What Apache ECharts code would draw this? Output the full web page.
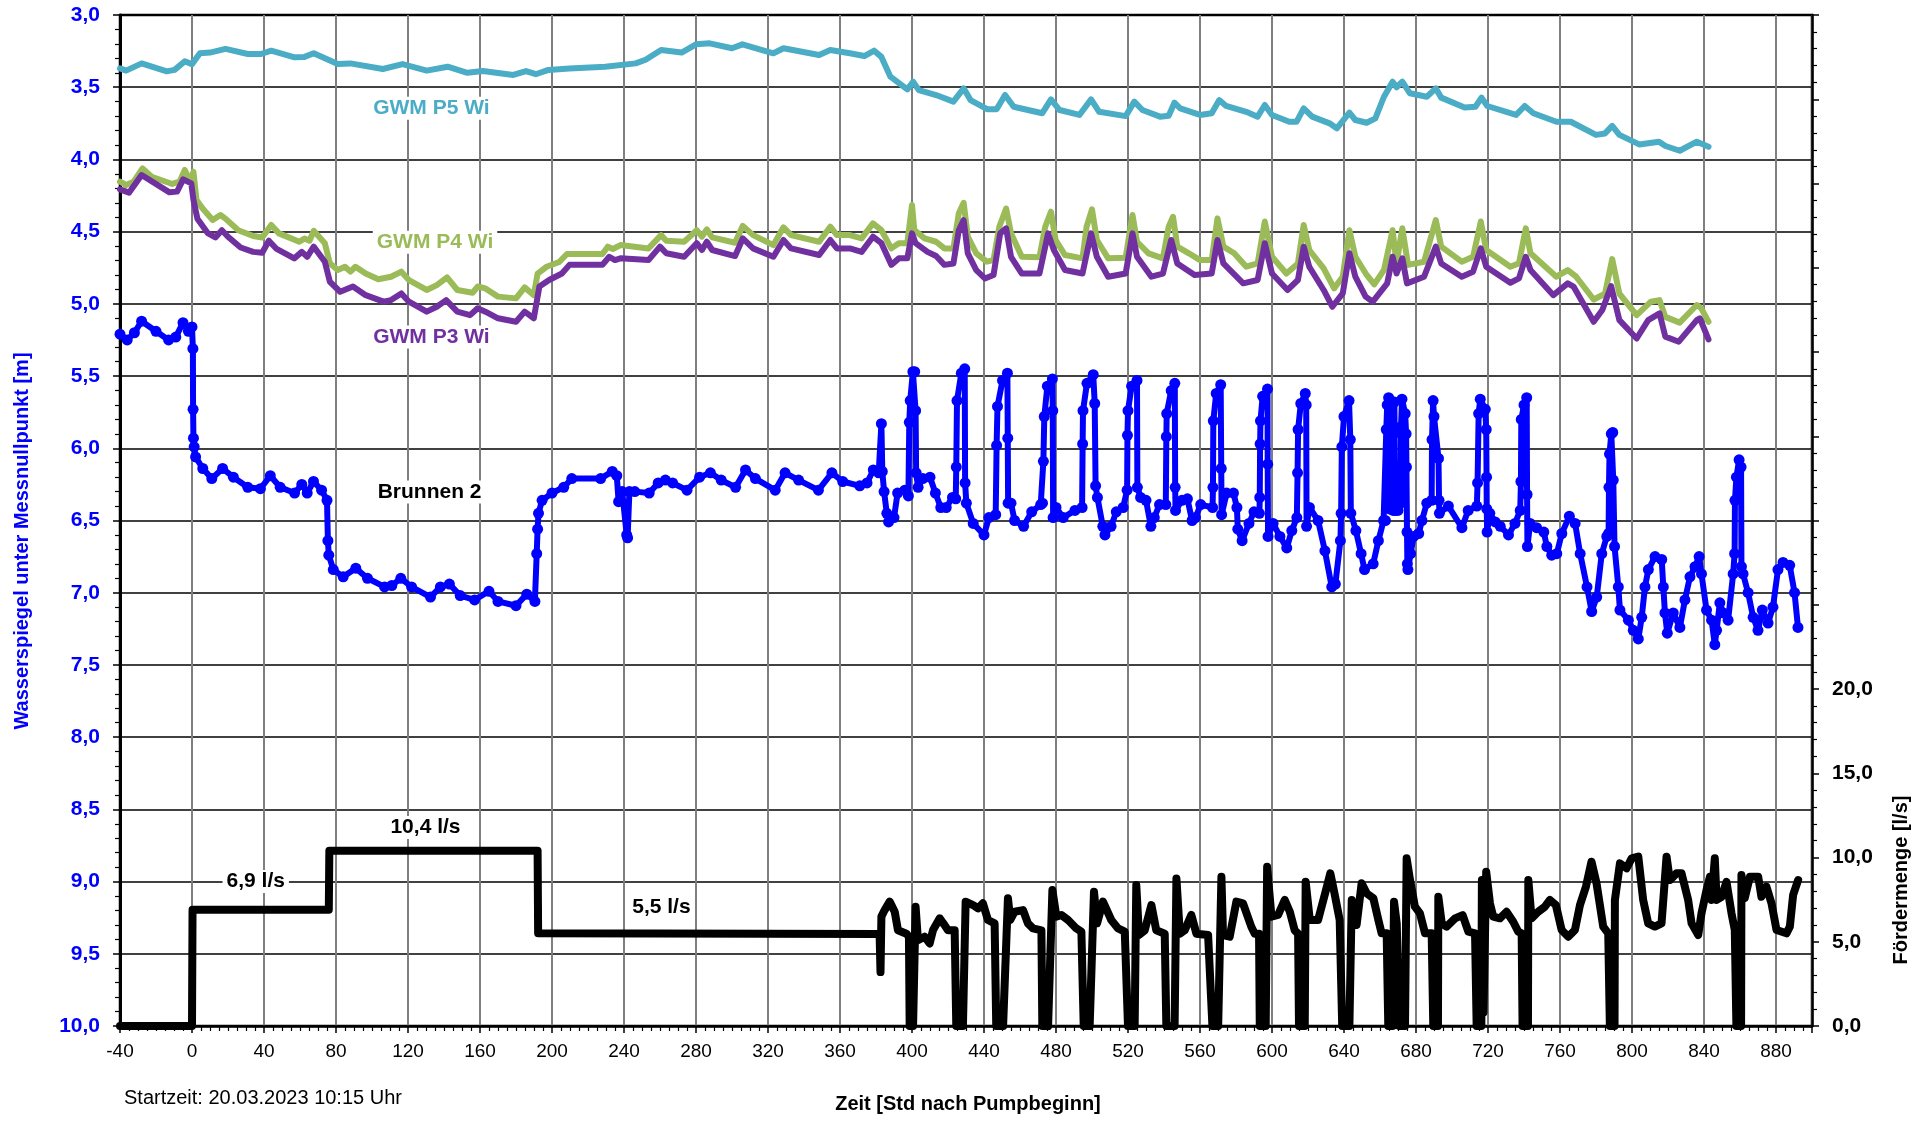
<!DOCTYPE html>
<html>
<head>
<meta charset="utf-8">
<title>Pumpversuch Brunnen 2</title>
<script src="https://cdn.jsdelivr.net/npm/echarts@6/dist/echarts.min.js"></script>
<style>
  html, body { margin: 0; padding: 0; background: #fff; }
  #chart { width: 1928px; height: 1121px; }
</style>
</head>
<body>
<div id="chart"></div>
<script>
"use strict";

// Zeit [h nach Pumpbeginn], Wasserspiegel [m unter MNP]
var p5Wi = [
	[-40,3.37],[-36.6,3.385],[-28,3.335],[-14,3.39],[-9.7,3.38],[-4,3.32],[0,3.34],[4.4,3.265],[10,3.26],
	[18.6,3.235],[31,3.27],[38.4,3.27],[44,3.247],[57,3.293],[62.5,3.29],[67.6,3.265],[81,3.34],[88,3.335],
	[106,3.374],[117,3.34],[130.4,3.385],[142,3.358],[153,3.4],[161.6,3.388],[178.5,3.415],[185.6,3.388],
	[191,3.41],[198,3.38],[209.7,3.37],[229.5,3.358],[246.5,3.335],[252,3.31],[260.6,3.242],[272,3.26],
	[280,3.203],[287.6,3.196],[300,3.23],[305.8,3.203],[323,3.265],[328.6,3.23],[348.4,3.277],[354.6,3.242],
	[365.5,3.265],[373.5,3.284],[379,3.247],[383,3.29],[388,3.427],[397.4,3.515],[400.6,3.462],[403.8,3.52],
	[413.4,3.554],[423,3.6],[428.7,3.508],[432.5,3.589],[442,3.653],[447,3.653],[451.7,3.554],[456.5,3.635],
	[472.4,3.68],[477.2,3.584],[482,3.658],[493,3.692],[499.5,3.584],[504,3.67],[518.7,3.7],[523.5,3.6],
	[528,3.658],[537.8,3.704],[542.6,3.697],[545.8,3.607],[549,3.646],[560,3.692],[566.5,3.68],[570.7,3.589],
	[574.5,3.63],[585.7,3.67],[592,3.704],[596,3.623],[600,3.692],[609.6,3.739],[613.7,3.739],[617.6,3.646],
	[622.3,3.704],[632,3.75],[636,3.785],[643,3.676],[646.3,3.727],[652.6,3.746],[657.4,3.716],[662.2,3.566],
	[667,3.462],[669.2,3.5],[672.4,3.462],[676.6,3.542],[686,3.566],[691,3.508],[694,3.572],[707,3.64],
	[713,3.635],[716.4,3.572],[719.6,3.63],[735.6,3.692],[740.4,3.63],[745.2,3.68],[758,3.739],[766,3.739],
	[780,3.83],[785,3.82],[789,3.768],[793,3.83],[804,3.896],[815,3.877],[818.6,3.907],[826.5,3.94],
	[836,3.877],[842.5,3.912]
];

var p4Wi = [
	[-40,4.154],[-36.6,4.177],[-32.4,4.154],[-27.5,4.062],[-22.4,4.12],[-11,4.17],[-6.9,4.154],[-4,4.073],
	[-1.2,4.154],[0.8,4.085],[2.5,4.28],[5.9,4.34],[11.5,4.42],[15.8,4.385],[18.6,4.41],[25.7,4.49],[34,4.53],
	[39,4.54],[44,4.454],[48.3,4.512],[59.6,4.57],[62.5,4.547],[65.3,4.563],[67.6,4.494],[73.8,4.58],
	[76.6,4.72],[81,4.766],[85,4.743],[88,4.777],[90.8,4.743],[96.5,4.79],[103.5,4.83],[110.6,4.812],
	[116.3,4.777],[120.5,4.835],[130.4,4.904],[136,4.87],[141.7,4.817],[147.4,4.904],[155.9,4.923],
	[158.7,4.88],[163,4.893],[170,4.95],[180,4.962],[184.8,4.886],[189.9,4.94],[192,4.79],[197,4.743],
	[204,4.71],[208.3,4.655],[228,4.655],[231,4.604],[233.8,4.62],[238,4.593],[253.6,4.616],[260.6,4.524],
	[263.5,4.563],[273.4,4.57],[280.4,4.49],[283.3,4.535],[286,4.484],[289,4.54],[301.7,4.577],[306,4.46],
	[311.7,4.524],[323,4.593],[328.6,4.47],[332.8,4.524],[348.4,4.57],[354.6,4.466],[358.3,4.524],
	[365.5,4.524],[372,4.547],[378.3,4.443],[383,4.49],[388.5,4.616],[392.7,4.58],[397.4,4.58],[400,4.316],
	[401.3,4.49],[407,4.547],[413.4,4.57],[418,4.616],[423,4.616],[426,4.373],[428.7,4.3],[431,4.535],
	[435.7,4.65],[441.5,4.708],[445.3,4.697],[448.5,4.466],[452.3,4.34],[455,4.512],[461,4.674],[470.8,4.678],
	[474,4.466],[477.2,4.362],[479.8,4.558],[485,4.662],[494.7,4.685],[497,4.466],[500,4.346],[502.7,4.558],
	[509,4.685],[518.7,4.68],[522.5,4.385],[525,4.57],[531.4,4.65],[539.4,4.685],[542.6,4.466],[545,4.397],
	[547.4,4.604],[553.8,4.65],[560,4.697],[566.5,4.697],[569.7,4.408],[573,4.604],[579,4.65],[585.7,4.743],
	[592,4.72],[596,4.43],[600,4.674],[608,4.79],[614.4,4.72],[617.6,4.454],[620.7,4.627],[628.7,4.754],
	[634.5,4.893],[639.3,4.812],[643,4.49],[646.3,4.674],[652.6,4.8],[656.8,4.865],[662.2,4.766],[667,4.49],
	[669.2,4.72],[672.4,4.477],[675.6,4.73],[684.5,4.708],[691,4.42],[694,4.604],[705.4,4.708],[711.7,4.674],
	[716,4.43],[719,4.627],[732.4,4.743],[737.2,4.72],[741,4.477],[743.6,4.65],[758,4.812],[764.3,4.766],
	[769,4.812],[778.7,4.97],[785,4.93],[789,4.69],[793,4.93],[802.6,5.078],[810.5,4.985],[815.3,4.974],
	[818.5,5.09],[826.5,5.13],[836,5.008],[838.4,5.03],[842.5,5.124]
];

var p3Wi = [
	[-40,4.207],[-35,4.23],[-28,4.108],[-12.5,4.228],[-8.3,4.223],[-4.9,4.138],[-0.4,4.166],[0.8,4.28],
	[3,4.41],[8.7,4.51],[13,4.54],[16.6,4.49],[20,4.535],[27,4.61],[34,4.64],[39,4.646],[42.7,4.563],
	[47,4.62],[56.8,4.685],[61,4.64],[64,4.674],[67.6,4.604],[73.8,4.708],[76.6,4.847],[82.3,4.916],
	[89.4,4.88],[96.5,4.94],[106.4,4.985],[110.6,4.974],[116.3,4.928],[120.5,4.985],[130.4,5.054],[136,5.02],
	[141.2,4.974],[147.4,5.054],[154.5,5.078],[158.7,5.03],[163,5.054],[170,5.1],[180,5.124],[184.8,5.054],
	[189.9,5.1],[193,4.88],[198.4,4.835],[205.5,4.79],[209.7,4.73],[228,4.73],[231.8,4.674],[235,4.697],
	[238,4.685],[253.6,4.697],[260,4.604],[263.5,4.65],[273.4,4.674],[280.4,4.58],[283.3,4.627],[286,4.57],
	[289,4.627],[301.7,4.669],[306,4.547],[311.7,4.616],[323,4.674],[328.6,4.558],[332.8,4.616],[348.4,4.662],
	[354.6,4.558],[358.3,4.616],[365.5,4.616],[372,4.64],[378.3,4.535],[383,4.58],[388.5,4.73],[392.7,4.685],
	[397.4,4.685],[400,4.512],[402,4.58],[408.6,4.64],[413.4,4.669],[418,4.73],[423,4.72],[426,4.49],
	[428.7,4.42],[431,4.65],[435.7,4.766],[440.5,4.824],[445.3,4.8],[449,4.512],[452.3,4.477],[455,4.674],
	[461,4.79],[470.8,4.79],[475.6,4.512],[478.8,4.627],[485,4.766],[494.7,4.79],[499.5,4.512],[502.7,4.674],
	[509,4.812],[518.7,4.79],[522.5,4.512],[525,4.674],[533,4.812],[539.4,4.79],[544,4.558],[547.4,4.72],
	[557,4.8],[566.5,4.79],[569.7,4.558],[573,4.72],[584,4.858],[592,4.835],[596,4.58],[600,4.79],
	[608.6,4.904],[614.4,4.835],[617.6,4.604],[620.7,4.743],[628.7,4.904],[633.5,5.02],[639.3,4.928],
	[643,4.65],[646.3,4.812],[652,4.95],[656,4.985],[664,4.858],[667,4.674],[669.2,4.79],[672.4,4.685],
	[675,4.858],[684.5,4.812],[691,4.604],[694,4.72],[705.4,4.812],[711.7,4.777],[716,4.616],[719,4.743],
	[732.4,4.854],[737.2,4.824],[741,4.674],[743.6,4.766],[756.3,4.94],[764.3,4.858],[767.5,4.88],
	[778.7,5.124],[783.5,5.043],[788.4,4.877],[793,5.113],[802.6,5.24],[809,5.113],[815.3,5.066],
	[818.5,5.227],[826,5.262],[836,5.113],[837.7,5.1],[842.5,5.246]
];

var brunnen2 = [
	[-40,5.21],[-36,5.25],[-32,5.2],[-28,5.12],[-20,5.19],[-13,5.25],[-9,5.23],[-5,5.13],[-2,5.19],[0,5.16],
	[0.5,5.31],[0.6,5.73],[0.8,5.93],[1.2,5.99],[2,6.06],[6,6.14],[11,6.21],[17,6.14],[23,6.2],[31,6.27],
	[38,6.28],[43.5,6.19],[49,6.27],[57,6.31],[61,6.25],[64,6.31],[67.5,6.23],[72,6.29],[75,6.36],
	[75.5,6.64],[76,6.74],[78.5,6.84],[84,6.89],[91,6.83],[97.5,6.9],[107,6.96],[111,6.95],[116,6.9],
	[122,6.96],[132.5,7.03],[138,6.96],[143,6.94],[149,7.02],[157,7.05],[165,6.99],[170,7.06],[180,7.09],
	[186,7.01],[190.5,7.06],[191.5,6.73],[192,6.56],[192.5,6.45],[194.5,6.36],[200,6.31],[206.5,6.27],
	[211,6.21],[227,6.21],[233.5,6.16],[236,6.19],[237,6.37],[239,6.3],[241.5,6.6],[242,6.62],[243,6.3],
	[246,6.3],[254,6.31],[259,6.24],[263,6.22],[267,6.24],[275,6.29],[282,6.2],[288,6.17],[294,6.22],
	[302,6.27],[307.5,6.15],[313,6.21],[324,6.29],[329.5,6.17],[337,6.22],[348,6.29],[355.5,6.17],
	[361.5,6.23],[371,6.26],[375,6.24],[378.5,6.15],[381.5,6.17],[383,5.83],[383.5,6.16],[384.5,6.3],
	[386,6.45],[387,6.51],[390,6.48],[392,6.31],[396,6.29],[398,6.33],[398.5,5.82],[399,5.67],[400.5,5.47],
	[401.5,5.47],[402,5.74],[402.3,6.17],[403.4,6.27],[406,6.21],[410,6.2],[413,6.31],[416,6.41],[419,6.41],
	[422.5,6.34],[424.3,6.35],[424.6,6.13],[425,5.67],[427.4,5.48],[429.3,5.45],[429.5,6.24],[430.2,6.38],
	[434,6.52],[440,6.6],[442.7,6.48],[446.5,6.46],[447,5.98],[447.5,5.71],[450.3,5.53],[453,5.48],
	[453.2,5.93],[453.4,6.38],[455,6.38],[457,6.5],[462,6.54],[466.5,6.44],[471.5,6.39],[472.5,6.38],
	[473,6.09],[473.5,5.78],[475.2,5.57],[478,5.52],[478.2,5.74],[478.4,6.48],[480,6.41],[484,6.48],
	[490.5,6.43],[494.5,6.41],[494.8,5.97],[495,5.74],[497.2,5.55],[500.7,5.49],[501.5,5.69],[502,6.26],
	[503,6.34],[506,6.54],[507.2,6.6],[510.6,6.54],[513.5,6.44],[517.3,6.41],[519.5,6.29],[519.7,5.91],
	[520,5.74],[522,5.57],[525,5.53],[525.2,6.27],[527,6.34],[530,6.36],[532.7,6.54],[534.6,6.48],
	[537.5,6.39],[541,6.39],[541.3,5.92],[541.5,5.76],[544,5.6],[546,5.55],[546.2,6.27],[546.4,6.43],
	[550,6.36],[553,6.35],[555.6,6.5],[557.5,6.48],[560.4,6.39],[567,6.41],[567.2,6.27],[567.4,5.81],
	[569,5.62],[571.5,5.56],[571.8,6.14],[572,6.46],[574.8,6.31],[578.6,6.31],[580.5,6.41],[581,6.56],
	[583.4,6.64],[587.2,6.52],[590,6.44],[593,6.45],[593.2,6.34],[593.4,5.97],[593.6,5.81],[594.8,5.64],
	[597.5,5.59],[597.6,6.11],[597.8,6.61],[600.6,6.52],[604.4,6.61],[608.2,6.69],[611,6.57],[613.8,6.48],
	[614.2,6.17],[614.5,5.87],[616,5.69],[618.5,5.62],[619,5.7],[619.2,6.54],[620.8,6.41],[625.6,6.5],
	[629.4,6.71],[633.2,6.96],[635.2,6.94],[638,6.64],[638.4,6.45],[638.8,5.99],[640,5.78],[642.8,5.67],
	[643.5,5.94],[643.8,6.45],[646.6,6.57],[649.5,6.73],[651.4,6.84],[656.2,6.8],[659.1,6.64],[662,6.5],
	[663,6.5],[663.5,5.87],[664,5.7],[664.8,5.65],[665,6.02],[665.3,6.42],[667.3,6.43],[667.6,5.9],
	[668,5.68],[668.3,6.15],[668.6,6.43],[670,6.43],[671.5,6.38],[671.7,5.85],[672.2,5.66],[674,5.76],
	[674.5,5.9],[674.7,6.13],[675,6.58],[675.2,6.8],[675.5,6.84],[677,6.73],[678.7,6.61],[681.5,6.59],
	[683.3,6.5],[686,6.38],[688.7,6.36],[688.9,5.94],[689.5,5.67],[690,5.78],[692.5,6.07],[692.8,6.36],
	[693,6.45],[698,6.4],[705.5,6.55],[709,6.43],[713.8,6.4],[714.2,6.24],[714.8,5.76],[715.7,5.66],
	[718.5,5.73],[719,5.87],[719.2,6.2],[719.3,6.42],[719.5,6.58],[721,6.45],[724,6.51],[726.8,6.54],
	[731.4,6.6],[735,6.52],[737.9,6.43],[738.3,6.23],[738.5,5.8],[740,5.7],[741.5,5.65],[741.7,6.32],
	[741.9,6.68],[743.4,6.52],[747,6.55],[751,6.58],[752.7,6.68],[755.4,6.74],[758.2,6.73],[761,6.59],
	[765.2,6.47],[768.4,6.52],[771.2,6.73],[775,6.96],[777.6,7.13],[780.4,7.03],[783.2,6.73],[786,6.61],
	[787,6.59],[787.2,6.27],[787.5,6.04],[788.5,5.9],[789.3,5.89],[789.6,6.22],[790.3,6.68],[792.4,6.96],
	[793.3,7.12],[798,7.19],[800.7,7.26],[803.5,7.32],[805.4,7.17],[807.2,6.96],[809.1,6.84],[812.8,6.75],
	[816.5,6.77],[817.4,6.96],[818.3,7.14],[819.6,7.28],[822.9,7.14],[826.6,7.24],[829.4,7.05],[832.2,6.89],
	[835,6.82],[837.3,6.75],[838.6,6.87],[841.4,7.12],[844.2,7.19],[846,7.36],[847,7.26],[848.8,7.07],
	[850.7,7.14],[853.4,7.19],[856.2,6.87],[857,6.73],[857.2,6.36],[858,6.2],[859.5,6.08],[860.6,6.13],
	[860.8,6.82],[861.7,6.87],[864.5,7.0],[867.3,7.17],[870,7.26],[872.4,7.12],[875.6,7.21],[878.3,7.1],
	[881.1,6.84],[883.9,6.79],[887.6,6.81],[890.3,7.0],[892.2,7.24]
];

// Zeit [h], Foerdermenge [l/s]
var foerdermenge = [
	[-40,0],[0,0],[0.3,6.9],[76,6.9],[76.3,10.4],[192,10.4],[192.3,5.5],[382,5.46],[382.5,3.2],[383,6.49],
	[384.8,6.88],[387.6,7.38],[390.4,6.78],[392.2,5.68],[396.9,5.48],[398.3,5.3],[398.7,0],[400.6,0],
	[402,7.08],[403.3,5.1],[407,5.3],[409.8,4.9],[411.7,5.7],[415.4,6.39],[418.1,5.99],[420,5.68],
	[423.7,5.68],[424.6,0],[428.3,0],[429.8,7.38],[433.9,7.18],[436.7,6.98],[439.4,7.28],[442.2,6.29],
	[445.9,6.09],[446.8,0],[450.6,0],[453.3,7.58],[454.6,6.29],[457,6.78],[461.7,6.88],[464.4,6.09],
	[467.2,5.79],[471.9,5.68],[472.4,0],[475.6,0],[478,8.07],[480.2,6.49],[483,6.59],[486.7,6.29],
	[491.3,5.79],[494.1,5.6],[495.4,0],[498.7,0],[501.1,7.97],[502.8,6.09],[506.1,7.38],[510.7,6.29],
	[514.5,5.79],[518.2,5.6],[520,0],[523.7,0],[524.6,8.37],[526.1,5.4],[529.3,5.68],[533,7.18],
	[535.7,5.68],[540.4,5.48],[541.3,0],[545.9,0],[546.9,8.76],[548.8,5.48],[551.5,5.68],[555.2,6.59],
	[558,5.48],[564.5,5.4],[566.9,0],[570.1,0],[571.9,8.86],[572.8,5.4],[576.5,5.3],[580.2,7.38],
	[583.9,7.28],[588.5,5.89],[590.4,5.48],[592.8,5.48],[593.2,0],[596.5,0],[597.3,9.45],[599.7,6.49],
	[603.4,6.59],[607.1,7.48],[609.9,6.78],[612.6,5.68],[614.5,5.48],[615,0],[618.2,0],[618.7,8.56],
	[621,6.29],[625.6,6.29],[630,8.07],[632.4,9.06],[634.7,7.88],[637.6,6.29],[638.5,6.19],[639,0],
	[643,0],[644.3,7.48],[647,5.99],[649.8,8.47],[652.6,7.87],[656.3,7.58],[659.1,6.29],[660.9,5.5],
	[663.7,5.5],[664.6,0],[667,0],[667.8,7.38],[669.3,6.09],[670.7,0],[673.9,0],[674.8,9.95],[676.7,8.66],
	[679.4,7.08],[682.2,6.68],[685,5.5],[688.7,5.5],[689.6,0],[692.2,0],[692.4,7.67],[694.3,6.09],
	[697,5.9],[701.7,6.39],[705.9,6.58],[709.1,5.6],[712.8,5.5],[713.7,0],[716.3,0],[716.6,8.66],
	[717.5,0.8],[719,9.16],[721.1,7.28],[722.9,6.49],[726.6,6.39],[730.3,6.78],[734,6.19],[736.8,5.6],
	[738.7,5.5],[739.2,0],[742.2,0],[742.4,8.66],[744.2,6.39],[747.9,6.78],[751.6,7.08],[754.4,7.48],
	[757.7,7.18],[760.9,5.7],[764.6,5.3],[768.3,5.7],[771.1,7.18],[774.4,8.27],[777.5,9.75],[780.3,8.47],
	[784,5.9],[786.8,5.5],[787.7,0],[790.3,0],[790.5,7.48],[793.3,9.65],[797,9.36],[799.8,9.95],
	[803.5,10.05],[806.2,7.48],[809,6.09],[812.7,5.9],[816.4,6.09],[819.2,10.05],[821,8.66],[824.7,9.06],
	[827.5,9.06],[831.2,7.48],[833.1,6.09],[836.8,5.4],[838.6,6.68],[841.4,8.07],[843.3,8.86],[844.2,7.48],
	[846,9.95],[847,7.48],[849.8,7.67],[852.5,8.56],[855.3,6.68],[857.1,5.7],[858,0],[860.6,0],[860.8,8.96],
	[862.6,7.58],[865.5,8.86],[870.1,8.86],[871.9,7.67],[874.7,8.27],[877.5,7.28],[880.3,5.7],[885.8,5.5],
	[887.7,5.9],[889.5,7.77],[892.3,8.66]
];

// Beschriftungen im Diagramm: [Zeit, Wert, Text, Farbe, Achse]
var seriesLabels = [
	[133, 3.645, 'GWM P5 Wi', '#4BACC6', 0],
	[135, 4.573, 'GWM P4 Wi', '#9BBB59', 0],
	[133, 5.229, 'GWM P3 Wi', '#7030A0', 0],
	[132, 6.302, 'Brunnen 2', '#000000', 0],
	[35.4, 8.57, '6,9 l/s', '#000000', 1],
	[129.7, 11.78, '10,4 l/s', '#000000', 1],
	[260.8, 7.03, '5,5 l/s', '#000000', 1]
];

var FONT = '"Liberation Sans", Arial, sans-serif';

function comma(v) {
	return v.toFixed(1).replace('.', ',');
}

var myChart = echarts.init(document.getElementById('chart'), null, { renderer: 'canvas' });

var option = {
	animation: false,
	backgroundColor: '#ffffff',
	grid: {
		left: 120,
		right: 116,
		top: 15,
		bottom: 95,
		containLabel: false,
		outerBoundsMode: 'none',
		show: true,
		borderColor: '#000',
		borderWidth: 2.5
	},
	xAxis: {
		type: 'value',
		min: -40,
		max: 900,
		interval: 40,
		axisLine: { onZero: false, lineStyle: { color: '#000', width: 2.5 } },
		axisTick: { length: 7, lineStyle: { color: '#000', width: 1.5 } },
		minorTick: { show: true, splitNumber: 8, length: 5, lineStyle: { color: '#000', width: 1.2 } },
		axisLabel: {
			margin: 16,
			fontFamily: FONT,
			fontSize: 19,
			color: '#000',
			showMaxLabel: false,
			formatter: function (v) { return v > 880 ? '' : String(v); }
		},
		splitLine: { show: true, lineStyle: { color: '#7f7f7f', width: 2 } }
	},
	yAxis: [{
		type: 'value',
		inverse: true,
		min: 3,
		max: 10,
		interval: 0.5,
		position: 'left',
		axisLine: { show: true, onZero: false, lineStyle: { color: '#000', width: 3 } },
		axisTick: { show: true, length: 7, lineStyle: { color: '#000', width: 1.5 } },
		minorTick: { show: true, splitNumber: 5, length: 5, lineStyle: { color: '#000', width: 1.2 } },
		axisLabel: {
			margin: 20,
			fontFamily: FONT,
			fontSize: 21,
			fontWeight: 'bold',
			color: '#0000FF',
			formatter: comma
		},
		splitLine: { show: true, lineStyle: { color: '#000', width: 1.6 } }
	}, {
		type: 'value',
		min: 0,
		max: 60,
		interval: 5,
		position: 'right',
		axisLine: { show: true, onZero: false, lineStyle: { color: '#000', width: 2.5 } },
		axisTick: { show: true, length: 7, lineStyle: { color: '#000', width: 1.5 } },
		minorTick: { show: true, splitNumber: 5, length: 5, lineStyle: { color: '#000', width: 1.2 } },
		axisLabel: {
			margin: 20,
			fontFamily: FONT,
			fontSize: 21,
			fontWeight: 'bold',
			color: '#000',
			formatter: function (v) { return v > 20 ? '' : comma(v); }
		},
		splitLine: { show: false }
	}],
	series: [{
		name: 'GWM P5 Wi',
		type: 'line',
		data: p5Wi,
		showSymbol: false,
		lineStyle: { color: '#4BACC6', width: 6, join: 'round', cap: 'round' }
	}, {
		name: 'GWM P4 Wi',
		type: 'line',
		data: p4Wi,
		showSymbol: false,
		lineStyle: { color: '#9BBB59', width: 6, join: 'round', cap: 'round' }
	}, {
		name: 'GWM P3 Wi',
		type: 'line',
		data: p3Wi,
		showSymbol: false,
		lineStyle: { color: '#7030A0', width: 6, join: 'round', cap: 'round' }
	}, {
		name: 'Brunnen 2',
		type: 'line',
		data: brunnen2,
		symbol: 'circle',
		symbolSize: 11,
		showAllSymbol: true,
		itemStyle: { color: '#0000FF', borderWidth: 0 },
		lineStyle: { color: '#0000FF', width: 6, join: 'round', cap: 'round' }
	}, {
		name: 'Fördermenge',
		type: 'line',
		yAxisIndex: 1,
		data: foerdermenge,
		showSymbol: false,
		lineStyle: { color: '#000', width: 8, join: 'round', cap: 'round' }
	}]
};

myChart.setOption(option);

// Texte: Serienbeschriftungen ueber die Achsen in Pixel umrechnen
var graphics = [];
seriesLabels.forEach(function (l) {
	var px = myChart.convertToPixel({ xAxisIndex: 0 }, l[0]);
	var py = myChart.convertToPixel({ yAxisIndex: l[4] }, l[1]);
	graphics.push({
		type: 'text',
		x: px,
		y: py,
		z: 100,
		style: {
			text: l[2],
			fill: l[3],
			font: 'bold 21px ' + FONT,
			align: 'center',
			verticalAlign: 'middle',
			backgroundColor: '#fff',
			padding: [1, 4]
		}
	});
});

graphics.push({
	type: 'text', x: 22, y: 541, rotation: Math.PI / 2, z: 100,
	style: { text: 'Wasserspiegel unter Messnullpunkt [m]', fill: '#0000FF', font: 'bold 20px ' + FONT, align: 'center', verticalAlign: 'middle' }
});
graphics.push({
	type: 'text', x: 1901, y: 880, rotation: Math.PI / 2, z: 100,
	style: { text: 'Fördermenge [l/s]', fill: '#000', font: 'bold 20px ' + FONT, align: 'center', verticalAlign: 'middle' }
});
graphics.push({
	type: 'text', x: 968, y: 1104, z: 100,
	style: { text: 'Zeit [Std nach Pumpbeginn]', fill: '#000', font: 'bold 20px ' + FONT, align: 'center', verticalAlign: 'middle' }
});
graphics.push({
	type: 'text', x: 124, y: 1098, z: 100,
	style: { text: 'Startzeit: 20.03.2023 10:15 Uhr', fill: '#000', font: '20px ' + FONT, align: 'left', verticalAlign: 'middle' }
});

myChart.setOption({ graphic: graphics });
</script>
</body>
</html>
